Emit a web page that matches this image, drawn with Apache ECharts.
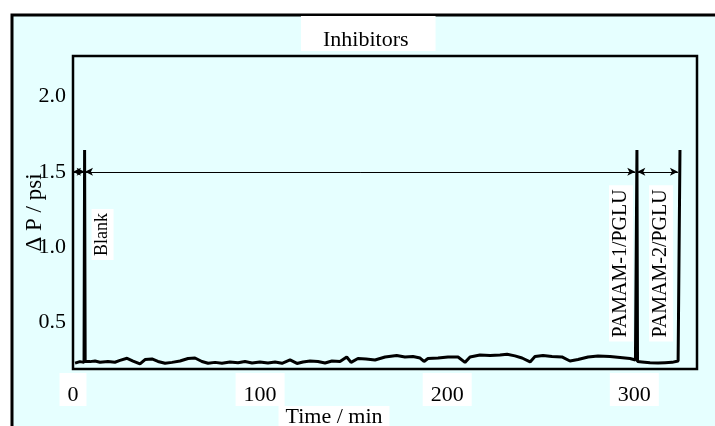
<!DOCTYPE html>
<html>
<head>
<meta charset="utf-8">
<script src="https://cdn.jsdelivr.net/npm/echarts@6/dist/echarts.min.js"></script>
<style>
  html, body { margin: 0; padding: 0; background: #fff; }
  #chart { width: 715px; height: 426px; }
</style>
</head>
<body>
<div id="chart"></div>
<script>
// time (min) and pressure drop (psi)
const TIME = [
    1.1, 3.7, 5.9, 6.2, 6.5, 9.1, 11.8, 14.4, 18.7, 22.4, 25.1, 28.9, 32.1, 35.8, 38.5,
    42.2, 45.4, 49.2, 52.9, 57.2, 61.5, 65.2, 68.9, 72.2, 75.9, 79.6, 83.9, 88.2,
    91.9, 95.7, 99.9, 104.2, 108, 111.7, 116, 119.7, 122.9, 126.7, 130.9, 134.7,
    138.4, 142.7, 146.3, 148.6, 152.3, 156.6, 161.4, 166.8, 173, 177.4, 181.7,
    185.5, 187.6, 189.7, 195.1, 200.4, 205.8, 209.5, 212.2, 217.5, 222.9, 228.2,
    232, 236.2, 240, 244.3, 246.9, 251.2, 256, 261.3, 265.6, 269.9, 275.3, 280.6,
    287, 292.4, 297.7, 300.6, 301.2, 301.4, 301.7, 304.1, 308.4, 312.7, 316.4,
    320.2, 323.4, 324.2, 324.4
];
const DELTA_P = [
    0.23, 0.24, 0.235, 1.645, 0.24, 0.24, 0.244, 0.236, 0.241, 0.236, 0.248, 0.262, 0.244, 0.225, 0.254,
    0.258, 0.241, 0.229, 0.235, 0.244, 0.261, 0.264, 0.241, 0.229, 0.235, 0.229, 0.238, 0.233,
    0.241, 0.231, 0.238, 0.231, 0.238, 0.229, 0.251, 0.228, 0.238, 0.244, 0.241, 0.231,
    0.244, 0.241, 0.271, 0.235, 0.261, 0.258, 0.251, 0.271, 0.280, 0.271, 0.274,
    0.264, 0.241, 0.261, 0.264, 0.271, 0.271, 0.235, 0.271, 0.284, 0.281, 0.284,
    0.289, 0.278, 0.264, 0.238, 0.274, 0.281, 0.274, 0.271, 0.244, 0.254, 0.271, 0.278,
    0.274, 0.268, 0.261, 0.251, 0.245, 1.645, 0.24, 0.238, 0.233, 0.231, 0.233,
    0.235, 0.244, 0.25, 1.645
];

const Y_TICKS = [0.5, 1.0, 1.5, 2.0];

// arrows at 1.5 psi spanning each run
const RUNS = [[0, 6.2], [6.4, 300.5], [301.6, 323.3]];
const RUN_LEVEL = 1.5;

// run labels [text, time, psi, font size]
const RUN_LABELS = [
    ['Blank', 15.8, 1.084, 18],
    ['PAMAM-1/PGLU', 292.9, 0.892, 20],
    ['PAMAM-2/PGLU', 314.3, 0.892, 20],
];

const FONT = '"Liberation Serif", "Times New Roman", serif';

const chart = echarts.init(document.getElementById('chart'), null, { renderer: 'canvas' });

chart.setOption({
    backgroundColor: '#fff',
    animation: false,
    graphic: [{
        type: 'rect',
        z: -100,
        silent: true,
        shape: { x: 12, y: 15, width: 720, height: 430 },
        style: { fill: '#e6ffff', stroke: '#000', lineWidth: 3 },
    }],
    title: {
        text: 'Inhibitors',
        left: 301,
        top: 20,
        padding: [13, 27, 0, 22],
        backgroundColor: '#fff',
        textStyle: { fontFamily: FONT, fontSize: 22, fontWeight: 'normal', color: '#000', lineHeight: 14 },
    },
    grid: {
        left: 73, right: 18, top: 56, bottom: 57,
        outerBoundsMode: 'none',
        show: true, borderColor: '#000', borderWidth: 2.5, backgroundColor: 'transparent',
    },
    xAxis: {
        type: 'value',
        min: 0,
        max: 333.5,
        interval: 100,
        axisLine: { show: false },
        axisTick: { show: false },
        splitLine: { show: false },
        axisLabel: {
            showMaxLabel: false,
            fontFamily: FONT, fontSize: 22, color: '#000',
            margin: 4,
            backgroundColor: '#fff',
            padding: [11, 8, 0, 8],
        },
        name: '{b|Time / min}',
        nameLocation: 'middle',
        nameGap: 37,
        nameMoveOverlap: false,
        nameTextStyle: {
            fontFamily: FONT, fontSize: 22, color: '#000',
            padding: [0, 102, 0, 0],
            rich: { b: { fontFamily: FONT, fontSize: 22, color: '#000', backgroundColor: '#fff', padding: [0, 7, 0, 7] } },
        },
    },
    yAxis: {
        type: 'value',
        min: 0.191,
        max: 2.269,
        axisLine: { show: false },
        axisTick: { show: false },
        splitLine: { show: false },
        axisLabel: {
            customValues: Y_TICKS,
            formatter: v => v.toFixed(1),
            fontFamily: FONT, fontSize: 22, color: '#000',
            margin: 7,
        },
        name: 'Δ P / psi',
        nameLocation: 'middle',
        nameRotate: 90,
        nameGap: 27,
        nameMoveOverlap: false,
        nameTextStyle: { fontFamily: FONT, fontSize: 23, color: '#000' },
    },
    series: [{
        type: 'line',
        data: TIME.map((t, i) => [t, DELTA_P[i]]),
        showSymbol: false,
        symbol: 'none',
        lineStyle: { color: '#000', width: 3 },
        markLine: {
            silent: true,
            symbol: ['arrow', 'arrow'],
            symbolSize: [6, 8],
            label: { show: false },
            lineStyle: { color: '#000', width: 1, type: 'solid' },
            data: RUNS.map(([a, b]) => [{ coord: [a, RUN_LEVEL] }, { coord: [b, RUN_LEVEL] }]),
        },
        markPoint: {
            silent: true,
            symbol: 'circle',
            symbolSize: 0,
            data: RUN_LABELS.map(([name, t, v, size]) => ({
                coord: [t, v],
                label: {
                    show: true,
                    formatter: name,
                    position: 'inside',
                    rotate: 90,
                    fontFamily: FONT,
                    fontSize: size,
                    color: '#000',
                    backgroundColor: '#fff',
                    padding: [2, 4],
                },
            })),
        },
    }],
});
</script>
</body>
</html>
